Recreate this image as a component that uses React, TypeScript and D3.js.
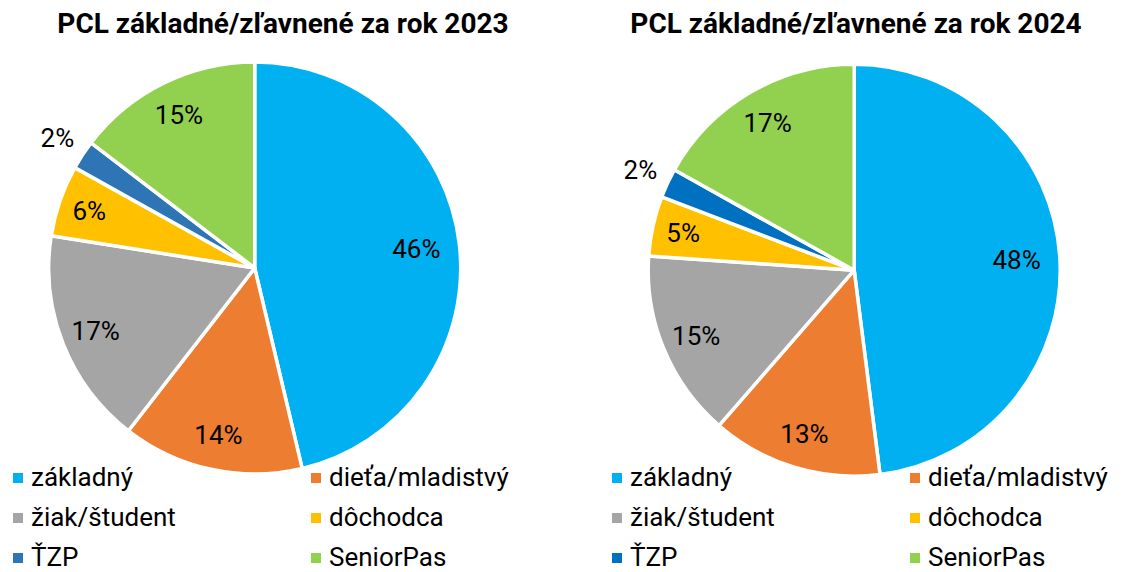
import React from 'react';
import * as d3 from 'd3';

const categories = ['základný', 'dieťa/mladistvý', 'žiak/študent', 'dôchodca', 'ŤZP', 'SeniorPas'];
const values2023 = [46.3, 14.2, 17.0, 5.6, 2.3, 14.6];
const values2024 = [48.0, 13.4, 14.7, 4.7, 2.3, 16.9];
const colors2023 = ['#00B0F0', '#ED7D31', '#A5A5A5', '#FFC000', '#2E75B6', '#92D050'];
const colors2024 = ['#00B0F0', '#ED7D31', '#A5A5A5', '#FFC000', '#0070C0', '#92D050'];
const titles = ['PCL základné/zľavnené za rok 2023', 'PCL základné/zľavnené za rok 2024'];

const FONT = 'Roboto, "Noto Sans", sans-serif';

type PieProps = {
  values: number[];
  colors: string[];
  title: string;
  cx: number;
  cy: number;
  r: number;
  titleX: number;
  legendX: number;
  legendCol2: number;
};

function Pie({ values, colors, title, cx, cy, r, titleX, legendX, legendCol2 }: PieProps) {
  const pie = d3.pie<number>().sort(null).value((d) => d);
  const arcs = pie(values);
  const arc = d3.arc<d3.PieArcDatum<number>>().innerRadius(0).outerRadius(r);
  const labelArc = (f: number) => d3.arc<d3.PieArcDatum<number>>().innerRadius(r * f).outerRadius(r * f);
  const outLabel = d3.arc<d3.PieArcDatum<number>>().innerRadius(r + 30).outerRadius(r + 30);
  const rowY = [486, 526, 566];
  return (
    <g>
      <text x={titleX} y={33} textAnchor="middle" fontFamily={FONT} fontWeight="bold" fontSize={28} fill="#000">
        {title}
      </text>
      <g transform={`translate(${cx},${cy})`}>
        {arcs.map((a, i) => (
          <path key={i} d={arc(a) || ''} fill={colors[i]} stroke="#fff" strokeWidth={3.5} strokeLinejoin="round" />
        ))}
        {arcs.map((a, i) => {
          const f = a.data > 40 ? 0.79 : a.data < 10 ? 0.85 : 0.83;
          const [x, y] = a.data < 3 ? outLabel.centroid(a) : labelArc(f).centroid(a);
          return (
            <text key={i} x={x} y={y} textAnchor="middle" dominantBaseline="central" fontFamily={FONT} fontSize={26} fill="#000">
              {`${Math.round(a.data)}%`}
            </text>
          );
        })}
      </g>
      {categories.map((c, i) => {
        const col = i % 2;
        const row = Math.floor(i / 2);
        const x = col === 0 ? legendX : legendCol2;
        const y = rowY[row];
        return (
          <g key={c}>
            <rect x={x} y={y - 13} width={10} height={10} fill={colors[i]} />
            <text x={x + 18} y={y} fontFamily={FONT} fontSize={26} fill="#000">
              {c}
            </text>
          </g>
        );
      })}
    </g>
  );
}

export default function App() {
  return (
    <svg width={1121} height={572} style={{ position: 'absolute', left: 0, top: 0, background: '#fff' }}>
      <rect width={1121} height={572} fill="#fff" />
      <Pie values={values2023} colors={colors2023} title={titles[0]} cx={254.7} cy={268} r={206}
        titleX={283} legendX={13} legendCol2={311} />
      <Pie values={values2024} colors={colors2024} title={titles[1]} cx={854.2} cy={270.2} r={206}
        titleX={856} legendX={612} legendCol2={910} />
    </svg>
  );
}
